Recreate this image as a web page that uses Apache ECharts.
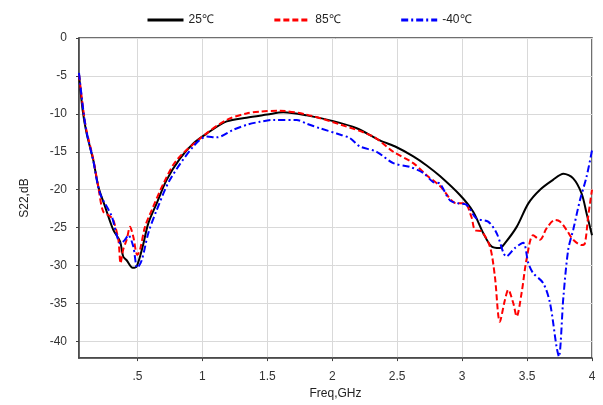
<!DOCTYPE html>
<html>
<head>
<meta charset="utf-8">
<script src="https://cdn.jsdelivr.net/npm/echarts@6/dist/echarts.min.js"></script>
<style>
  html, body { margin: 0; padding: 0; background: #fff; }
  #chart { width: 603px; height: 405px; }
</style>
</head>
<body>
<div id="chart"></div>
<script>
// Series names
const seriesNames = ['25℃', '85℃', '-40℃'];

// 25 °C
const freq25 = [0.05, 0.078, 0.109, 0.16, 0.199, 0.25, 0.314, 0.366, 0.39, 0.417, 0.463, 0.494, 0.54, 0.584, 0.648, 0.725, 0.827, 0.93, 1.033, 1.187, 1.34, 1.5, 1.623, 1.803, 2.008, 2.188, 2.367, 2.496, 2.624, 2.727, 2.829, 2.983, 3.085, 3.162, 3.227, 3.29, 3.33, 3.42, 3.51, 3.6, 3.70, 3.78, 3.855, 3.92, 3.958, 4.0];
const s22_25 = [-4.8, -9.5, -12.6, -16.1, -19.6, -22.2, -25.3, -26.8, -28.8, -29.3, -30.3, -30.1, -27.5, -24.4, -21.8, -18.7, -15.9, -13.9, -12.6, -11.0, -10.5, -10.1, -9.8, -10.2, -10.96, -11.9, -13.5, -14.4, -15.6, -16.8, -18.2, -20.7, -22.9, -25.7, -27.5, -27.7, -27.05, -24.9, -21.8, -20.0, -18.7, -17.9, -18.5, -20.5, -23.1, -26.0];

// 85 °C
const freq85 = [0.05, 0.1, 0.16, 0.2, 0.237, 0.289, 0.314, 0.353, 0.37, 0.39, 0.417, 0.443, 0.468, 0.499, 0.52, 0.558, 0.61, 0.70, 0.802, 1.007, 1.187, 1.34, 1.443, 1.597, 1.803, 2.06, 2.316, 2.47, 2.624, 2.727, 2.829, 2.958, 3.02, 3.072, 3.098, 3.15, 3.214, 3.252, 3.29, 3.33, 3.355, 3.393, 3.42, 3.458, 3.496, 3.547, 3.6, 3.65, 3.714, 3.753, 3.804, 3.855, 3.92, 3.945, 3.97, 4.0];
const s22_85 = [-4.8, -11.5, -16.0, -19.8, -22.9, -23.5, -24.0, -26.6, -29.7, -27.9, -26.6, -24.9, -26.2, -28.6, -27.9, -24.9, -22.7, -19.2, -16.1, -12.9, -10.8, -9.95, -9.7, -9.6, -10.1, -11.4, -13.0, -15.0, -16.5, -18.1, -19.5, -21.8, -21.8, -23.6, -25.3, -25.5, -27.5, -31.4, -37.4, -34.5, -33.2, -34.9, -36.7, -33.6, -29.2, -26.0, -26.6, -25.1, -24.0, -24.2, -25.3, -26.6, -27.3, -27.1, -23.6, -20.0];

// -40 °C
const freqM40 = [0.05, 0.1, 0.16, 0.212, 0.302, 0.34, 0.37, 0.404, 0.43, 0.468, 0.499, 0.533, 0.584, 0.648, 0.75, 0.93, 1.033, 1.11, 1.238, 1.35, 1.443, 1.546, 1.726, 1.803, 1.905, 2.034, 2.136, 2.213, 2.342, 2.47, 2.598, 2.701, 2.778, 2.829, 2.906, 2.97, 3.035, 3.11, 3.2, 3.265, 3.342, 3.406, 3.47, 3.51, 3.547, 3.624, 3.676, 3.727, 3.745, 3.78, 3.817, 3.855, 3.907, 3.958, 4.0];
const s22_M40 = [-4.6, -11.6, -16.2, -20.5, -23.5, -26.0, -27.1, -26.6, -26.0, -27.5, -30.3, -29.3, -25.7, -22.7, -18.7, -14.3, -13.0, -13.1, -12.1, -11.4, -11.05, -10.8, -10.8, -11.3, -11.9, -12.6, -13.2, -14.3, -15.0, -16.5, -17.0, -17.8, -19.0, -19.2, -21.4, -21.8, -22.0, -23.8, -24.2, -25.7, -28.8, -27.7, -27.0, -29.7, -31.0, -32.3, -34.9, -40.7, -42.0, -34.1, -27.9, -25.3, -21.4, -18.3, -14.8];

const pairs = (xs, ys) => xs.map((x, i) => [x, ys[i]]);

const chart = echarts.init(document.getElementById('chart'), null, { renderer: 'canvas' });
const FONT = 'Liberation Sans, Arial, sans-serif';
const axisColor = '#404040';
const labelColor = '#333';

chart.setOption({
  animation: false,
  backgroundColor: '#fff',
  textStyle: { fontFamily: FONT },
  legend: {
    data: seriesNames,
    left: 141,
    top: 9,
    itemWidth: 36,
    itemHeight: 12,
    itemGap: 59,
    itemStyle: { opacity: 0 },
    lineStyle: { width: 3 },
    textStyle: { fontSize: 12, color: '#222', fontFamily: FONT }
  },
  grid: { left: 79, right: 11, top: 38, bottom: 46, show: true, borderColor: axisColor, borderWidth: 1.5 },
  xAxis: {
    type: 'value',
    min: 0.05,
    max: 4,
    splitNumber: 8,
    name: 'Freq,GHz',
    nameLocation: 'middle',
    nameGap: 29,
    nameTextStyle: { fontSize: 12, color: '#222', fontFamily: FONT },
    axisLine: { show: true, onZero: false, lineStyle: { color: axisColor, width: 1.5 } },
    axisTick: { show: true, length: 3, lineStyle: { color: axisColor } },
    axisLabel: {
      show: true, margin: 13, fontSize: 12, color: labelColor, fontFamily: FONT,
      showMinLabel: false,
      formatter: v => String(+v.toFixed(2)).replace(/^0\./, '.')
    },
    splitLine: { show: true, lineStyle: { color: '#d9d9d9', width: 1 } }
  },
  yAxis: {
    type: 'value',
    min: -42.2,
    max: 0,
    splitNumber: 8,
    name: 'S22,dB',
    nameLocation: 'middle',
    nameGap: 48,
    nameTextStyle: { fontSize: 12, color: '#222', fontFamily: FONT },
    axisLine: { show: true, onZero: false, lineStyle: { color: axisColor, width: 1.5 } },
    axisTick: { show: true, length: 3, lineStyle: { color: axisColor } },
    axisLabel: {
      show: true, margin: 12, fontSize: 12, color: labelColor, fontFamily: FONT,
      showMinLabel: false,
      formatter: v => (Math.abs(v % 5) < 1e-6 ? String(v) : '')
    },
    splitLine: { show: true, lineStyle: { color: '#d9d9d9', width: 1 } }
  },
  series: [
    {
      name: seriesNames[0], type: 'line', symbol: 'none', smooth: 0.3, clip: true,
      data: pairs(freq25, s22_25),
      lineStyle: { color: '#000', width: 2, type: 'solid' },
      itemStyle: { color: '#000' }
    },
    {
      name: seriesNames[1], type: 'line', symbol: 'none', smooth: 0.3, clip: true,
      data: pairs(freq85, s22_85),
      lineStyle: { color: '#ff0000', width: 2, type: [6, 3] },
      itemStyle: { color: '#ff0000' }
    },
    {
      name: seriesNames[2], type: 'line', symbol: 'none', smooth: 0.3, clip: true,
      data: pairs(freqM40, s22_M40),
      lineStyle: { color: '#0000ff', width: 2, type: [7, 3, 2, 3] },
      itemStyle: { color: '#0000ff' }
    }
  ]
});
</script>
</body>
</html>
